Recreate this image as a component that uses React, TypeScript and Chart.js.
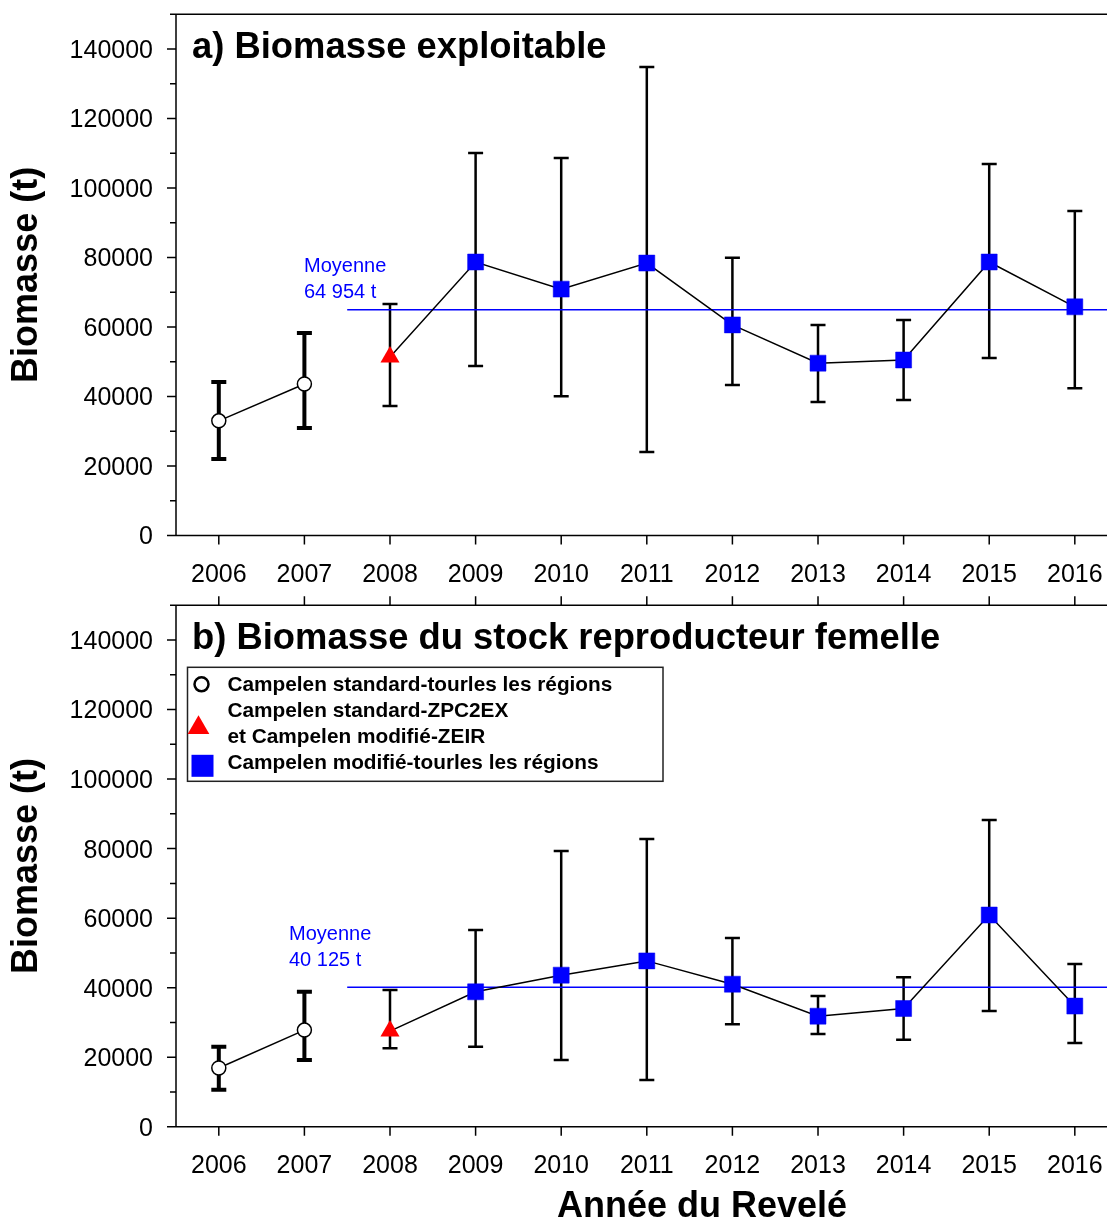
import React, { useEffect, useRef } from "react";
import { Chart, registerables } from "chart.js";

Chart.register(...registerables);

const FONT = "'Liberation Sans', Arial, Helvetica, sans-serif";

// Survey years and the survey design used each year
const YEARS = [2006, 2007, 2008, 2009, 2010, 2011, 2012, 2013, 2014, 2015, 2016];
const SURVEY_TYPE = ["std", "std", "mixed", "mod", "mod", "mod", "mod", "mod", "mod", "mod", "mod"];

// a) Exploitable biomass (t) with confidence limits
const EXPLOITABLE = [33000, 43600, 51400, 78700, 70900, 78400, 60600, 49600, 50500, 78700, 65800];
const EXPLOITABLE_LOW = [22000, 30900, 37300, 48800, 40100, 24000, 43300, 38400, 39000, 51100, 42400];
const EXPLOITABLE_HIGH = [44200, 58300, 66600, 110100, 108600, 134800, 79900, 60600, 62000, 106900, 93400];
const EXPLOITABLE_AVG = 64954;

// b) Female spawning stock biomass (t) with confidence limits
const SPAWNING = [16900, 27800, 27500, 38800, 43600, 47700, 41000, 31800, 34000, 60900, 34700];
const SPAWNING_LOW = [10600, 19200, 22600, 23000, 19200, 13400, 29500, 26700, 25000, 33300, 24100];
const SPAWNING_HIGH = [23000, 38800, 39300, 56600, 79300, 82800, 54300, 37600, 43000, 88200, 46800];
const SPAWNING_AVG = 40125;

// Axis ticks
const Y_LABELS = [0, 20000, 40000, 60000, 80000, 100000, 120000, 140000];
const Y_MINOR = [10000, 30000, 50000, 70000, 90000, 110000, 130000, 150000];
const Y_MAX = 150000;
const X_MIN = 2005.5;
const X_MAX = 2016.376;
const AVG_START = 2007.5;

const LEGEND_ITEMS = [
  { marker: "circle", lines: ["Campelen standard-tourles les régions"] },
  { marker: "triangle", lines: ["Campelen standard-ZPC2EX", "et Campelen modifié-ZEIR"] },
  { marker: "rect", lines: ["Campelen modifié-tourles les régions"] },
];

type PanelCfg = {
  values: number[];
  low: number[];
  high: number[];
  average: number;
  title: string;
  avgLabel: string[];
  avgLabelX: number;
  avgLabelY: number;
  height: number;
  plotTop: number;
  plotBottom: number;
  topTicks: boolean;
  legend: boolean;
  xTitle: string | null;
};

function points(values: number[], types: string[]) {
  const out: { x: number; y: number }[] = [];
  YEARS.forEach((yr, i) => {
    if (types.includes(SURVEY_TYPE[i])) out.push({ x: yr, y: values[i] });
  });
  return out;
}

function drawCircle(ctx: CanvasRenderingContext2D, x: number, y: number, r: number, lw: number) {
  ctx.beginPath();
  ctx.arc(x, y, r, 0, Math.PI * 2);
  ctx.fillStyle = "#fff";
  ctx.fill();
  ctx.lineWidth = lw;
  ctx.strokeStyle = "#000";
  ctx.stroke();
}

function drawTriangle(ctx: CanvasRenderingContext2D, x: number, y: number, r: number) {
  ctx.beginPath();
  for (let k = 0; k < 3; k++) {
    const a = (k * 2 * Math.PI) / 3;
    const px = x + Math.sin(a) * r;
    const py = y - Math.cos(a) * r;
    if (k === 0) ctx.moveTo(px, py);
    else ctx.lineTo(px, py);
  }
  ctx.closePath();
  ctx.fillStyle = "#ff0000";
  ctx.fill();
}

const decorPlugin = {
  id: "decor",
  beforeDatasetsDraw(chart: any, _args: any, opts: any) {
    const cfg: PanelCfg = opts.cfg;
    const { ctx } = chart;
    const xs = chart.scales.x;
    const ys = chart.scales.y;
    ctx.save();
    ctx.strokeStyle = "#000";
    YEARS.forEach((yr, i) => {
      const thick = SURVEY_TYPE[i] === "std";
      const lw = thick ? 4 : 2.5;
      const px = xs.getPixelForValue(yr);
      const yl = ys.getPixelForValue(cfg.low[i]);
      const yh = ys.getPixelForValue(cfg.high[i]);
      const half = 7.5;
      ctx.lineWidth = lw;
      ctx.beginPath();
      ctx.moveTo(px, yl);
      ctx.lineTo(px, yh);
      ctx.moveTo(px - half, yl);
      ctx.lineTo(px + half, yl);
      ctx.moveTo(px - half, yh);
      ctx.lineTo(px + half, yh);
      ctx.stroke();
    });
    ctx.restore();
  },
  afterDraw(chart: any, _args: any, opts: any) {
    const cfg: PanelCfg = opts.cfg;
    const { ctx, chartArea } = chart;
    const xs = chart.scales.x;
    const ys = chart.scales.y;
    const { left, right, top, bottom } = chartArea;
    ctx.save();
    ctx.strokeStyle = "#000";
    ctx.lineWidth = 1.5;
    ctx.beginPath();
    // frame: left, bottom, top
    ctx.moveTo(left, top);
    ctx.lineTo(left, bottom);
    ctx.moveTo(left, bottom);
    ctx.lineTo(right + 20, bottom);
    ctx.moveTo(left, top);
    ctx.lineTo(right + 20, top);
    // y ticks
    Y_LABELS.forEach((v) => {
      const py = ys.getPixelForValue(v);
      ctx.moveTo(left - 9, py);
      ctx.lineTo(left, py);
    });
    Y_MINOR.forEach((v) => {
      const py = ys.getPixelForValue(v);
      ctx.moveTo(left - 6, py);
      ctx.lineTo(left, py);
    });
    // x ticks
    YEARS.forEach((yr) => {
      const px = xs.getPixelForValue(yr);
      ctx.moveTo(px, bottom);
      ctx.lineTo(px, bottom + 9);
      if (cfg.topTicks) {
        ctx.moveTo(px, top);
        ctx.lineTo(px, top - 9);
      }
    });
    ctx.stroke();

    // panel title
    ctx.fillStyle = "#000";
    ctx.font = `bold 36.4px ${FONT}`;
    ctx.textAlign = "left";
    ctx.textBaseline = "alphabetic";
    ctx.fillText(cfg.title, 192, top + 44);

    // average label
    ctx.fillStyle = "#0000ff";
    ctx.font = `20px ${FONT}`;
    ctx.textBaseline = "middle";
    const ay = ys.getPixelForValue(cfg.average);
    ctx.fillText(cfg.avgLabel[0], cfg.avgLabelX, ay + cfg.avgLabelY);
    ctx.fillText(cfg.avgLabel[1], cfg.avgLabelX, ay + cfg.avgLabelY + 26);

    // legend
    if (cfg.legend) {
      const bx = 187.5;
      const by = top + 62;
      ctx.strokeStyle = "#222";
      ctx.lineWidth = 1.5;
      ctx.strokeRect(bx, by, 475.5, 114);
      ctx.font = `bold 20.8px ${FONT}`;
      ctx.fillStyle = "#000";
      ctx.textBaseline = "middle";
      let ly = by + 17.5;
      LEGEND_ITEMS.forEach((item) => {
        const n = item.lines.length;
        const my = ly + ((n - 1) * 26) / 2;
        if (item.marker === "circle") drawCircle(ctx, bx + 14, my - 0.5, 7, 2.5);
        else if (item.marker === "triangle") drawTriangle(ctx, bx + 11, my + 4, 12.5);
        else {
          ctx.fillStyle = "#0000ff";
          ctx.fillRect(bx + 4, my - 8, 22, 22);
        }
        ctx.fillStyle = "#000";
        item.lines.forEach((t, k) => ctx.fillText(t, bx + 40, ly + k * 26));
        ly += n * 26;
      });
    }

    // x-axis title
    if (cfg.xTitle) {
      ctx.fillStyle = "#000";
      ctx.font = `bold 36px ${FONT}`;
      ctx.textAlign = "center";
      ctx.textBaseline = "alphabetic";
      ctx.fillText(cfg.xTitle, 702, bottom + 90);
    }
    ctx.restore();
  },
};

function buildChart(canvas: HTMLCanvasElement, cfg: PanelCfg) {
  const avgLine = [
    { x: AVG_START, y: cfg.average },
    { x: X_MAX, y: cfg.average },
  ];
  return new Chart(canvas, {
    type: "scatter",
    data: {
      datasets: [
        {
          label: "Campelen standard",
          data: points(cfg.values, ["std"]),
          showLine: true,
          borderColor: "#000",
          borderWidth: 1.5,
          pointStyle: "circle",
          pointRadius: 7,
          pointBackgroundColor: "#fff",
          pointBorderColor: "#000",
          pointBorderWidth: 1.5,
          order: 1,
        },
        {
          label: "ZPC2EX / ZEIR",
          data: points(cfg.values, ["mixed"]),
          showLine: false,
          pointStyle: "triangle",
          pointRadius: 11,
          pointBackgroundColor: "#ff0000",
          pointBorderColor: "#ff0000",
          pointBorderWidth: 0,
          order: 1,
        },
        {
          label: "Campelen modifié",
          data: points(cfg.values, ["mod"]),
          showLine: false,
          pointStyle: "rect",
          pointRadius: 11.3,
          pointBackgroundColor: "#0000ff",
          pointBorderColor: "#0000ee",
          pointBorderWidth: 0.5,
          order: 1,
        },
        {
          label: "tendance",
          data: points(cfg.values, ["mixed", "mod"]),
          showLine: true,
          borderColor: "#000",
          borderWidth: 1.5,
          pointRadius: 0,
          order: 2,
        },
        {
          label: "Moyenne",
          data: avgLine,
          showLine: true,
          borderColor: "#0000ff",
          borderWidth: 1.5,
          pointRadius: 0,
          order: 3,
        },
      ],
    },
    options: {
      responsive: false,
      animation: false,
      events: [],
      layout: { autoPadding: false, padding: { top: cfg.plotTop, left: 0, right: 0, bottom: 0 } },
      plugins: {
        legend: { display: false },
        tooltip: { enabled: false },
        decor: { cfg },
      } as any,
      scales: {
        x: {
          type: "linear",
          min: X_MIN,
          max: X_MAX,
          // tick marks are drawn by the decor plugin; the invisible tick length only offsets the labels
          grid: { display: false, drawTicks: true, tickLength: 24.5, tickColor: "rgba(0,0,0,0)" },
          border: { display: false },
          afterBuildTicks: (s: any) => {
            s.ticks = YEARS.map((v) => ({ value: v }));
          },
          afterFit: (s: any) => {
            s.height = cfg.height - cfg.plotBottom;
            s.paddingLeft = 0;
            s.paddingRight = 0;
          },
          ticks: {
            autoSkip: false,
            maxRotation: 0,
            padding: 0,
            color: "#000",
            font: { family: FONT, size: 25 },
            callback: (v: any) => String(v),
          },
        },
        y: {
          min: 0,
          max: Y_MAX,
          grid: { display: false, drawTicks: true, tickLength: 23, tickColor: "rgba(0,0,0,0)" },
          border: { display: false },
          afterBuildTicks: (s: any) => {
            s.ticks = Y_LABELS.map((v) => ({ value: v }));
          },
          afterFit: (s: any) => {
            s.width = 176;
            s.paddingTop = 0;
            s.paddingBottom = 0;
          },
          ticks: {
            padding: 0,
            labelOffset: 2,
            color: "#000",
            font: { family: FONT, size: 25 },
            callback: (v: any) => String(v),
          },
          title: {
            display: true,
            text: "Biomasse (t)",
            color: "#000",
            font: { family: FONT, size: 36, weight: "bold" },
            padding: { top: 5, bottom: 0 },
          },
        },
      },
    } as any,
    plugins: [decorPlugin],
  });
}

export default function App() {
  const refA = useRef<HTMLCanvasElement>(null);
  const refB = useRef<HTMLCanvasElement>(null);

  useEffect(() => {
    const a = buildChart(refA.current!, {
      values: EXPLOITABLE,
      low: EXPLOITABLE_LOW,
      high: EXPLOITABLE_HIGH,
      average: EXPLOITABLE_AVG,
      title: "a) Biomasse exploitable",
      avgLabel: ["Moyenne", "64 954 t"],
      avgLabelX: 304,
      avgLabelY: -43,
      height: 590,
      plotTop: 14.25,
      plotBottom: 535.5,
      topTicks: false,
      legend: false,
      xTitle: null,
    });
    const b = buildChart(refB.current!, {
      values: SPAWNING,
      low: SPAWNING_LOW,
      high: SPAWNING_HIGH,
      average: SPAWNING_AVG,
      title: "b) Biomasse du stock reproducteur femelle",
      avgLabel: ["Moyenne", "40 125 t"],
      avgLabelX: 289,
      avgLabelY: -53,
      height: 634,
      plotTop: 15.3,
      plotBottom: 536.7,
      topTicks: true,
      legend: true,
      xTitle: "Année du Revelé",
    });
    return () => {
      a.destroy();
      b.destroy();
    };
  }, []);

  return (
    <div
      style={{
        position: "absolute",
        left: 0,
        top: 0,
        width: 1107,
        height: 1224,
        overflow: "hidden",
        background: "#fff",
      }}
    >
      <canvas ref={refA} width={1107} height={590} style={{ position: "absolute", left: 0, top: 0 }} />
      <canvas ref={refB} width={1107} height={634} style={{ position: "absolute", left: 0, top: 590 }} />
    </div>
  );
}
